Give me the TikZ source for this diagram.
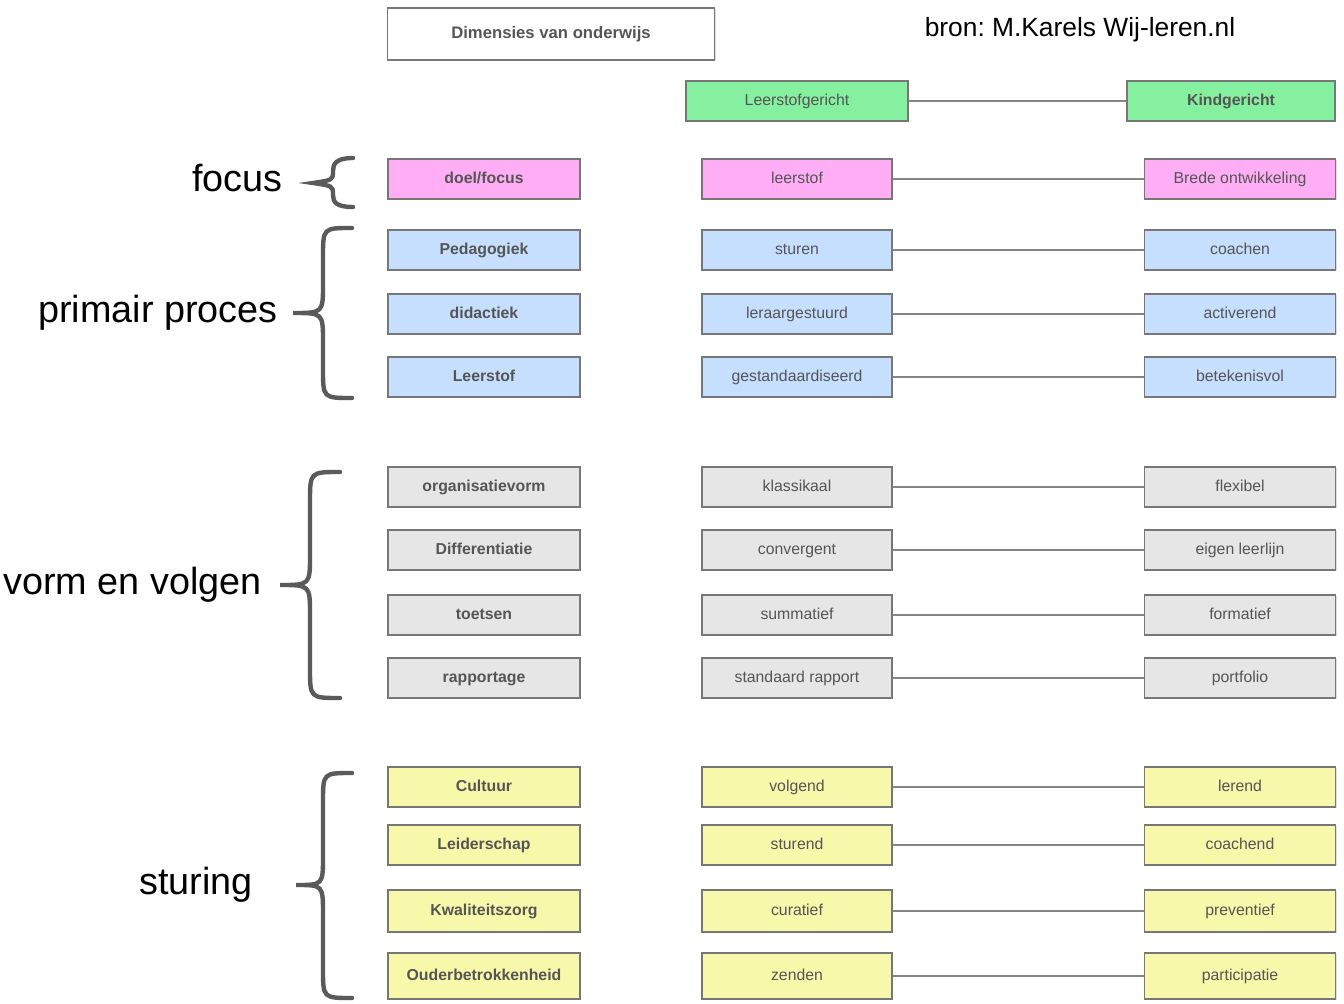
\documentclass[tikz,border=0pt]{standalone}
\usepackage{fontspec}
\setmainfont{Liberation Sans}
\frenchspacing
\usetikzlibrary{shadows}
\usetikzlibrary{arrows.meta}

\definecolor{boxGreen}{HTML}{84F0A0}
\definecolor{boxPink}{HTML}{FFAEF6}
\definecolor{boxBlue}{HTML}{C6DFFF}
\definecolor{boxGrey}{HTML}{E6E6E6}
\definecolor{boxYellow}{HTML}{F8F8AA}
\definecolor{boxLine}{HTML}{777777}
\definecolor{boxText}{HTML}{555555}
\definecolor{braceGrey}{HTML}{5A5A5A}

\begin{document}
\begin{tikzpicture}[x=0.02cm,y=-0.02cm,
        baseNode/.style = {draw=boxLine,line width=0.85pt,text=boxText,inner sep=0pt,minimum height=0.8cm,
                           text height=0.72em,text depth=0.2em,
                           font=\fontsize{9}{11}\selectfont,drop shadow={shadow xshift=0.6pt,shadow yshift=-0.6pt,opacity=0.25}},
        dimNode/.style = {baseNode,minimum width=3.84cm,font=\fontsize{9}{11}\selectfont\bfseries}, % left column
        midNode/.style = {baseNode,minimum width=3.8cm},
        rightNode/.style = {baseNode,minimum width=3.82cm},
        greenNode/.style = {fill=boxGreen},
        pinkNode/.style = {fill=boxPink},
        blueNode/.style = {fill=boxBlue},
        greyNode/.style = {fill=boxGrey},
        yellowNode/.style = {fill=boxYellow},
        groupLabel/.style = {anchor=east,inner sep=0pt,font=\fontsize{21.5}{24}\selectfont},
        link/.style = {draw=boxLine!90,line width=0.85pt},
        curly/.style = {draw=braceGrey,line width=2.5pt,line cap=round}
        ]
        \useasboundingbox (0,0) rectangle (1344,1003);

        % header
        \node[baseNode,fill=white,minimum width=6.54cm,minimum height=1.04cm,font=\fontsize{9.5}{11}\selectfont\bfseries] (dims) at (551,34) {Dimensies van onderwijs};
        \node[inner sep=0pt,font=\fontsize{15}{18}\selectfont] (bron) at (1080,30) {bron: M.Karels Wij-leren.nl};
        \node[baseNode,greenNode,minimum width=4.44cm] (lsg) at (797,101) {Leerstofgericht};
        \node[baseNode,greenNode,minimum width=4.16cm,font=\fontsize{9}{11}\selectfont\bfseries] (kg) at (1231,101) {Kindgericht};

        % focus
        \node[dimNode,pinkNode] (focusL) at (484,179) {doel/focus};
        \node[midNode,pinkNode] (focusM) at (797,179) {leerstof};
        \node[rightNode,pinkNode] (focusR) at (1240,179) {Brede ontwikkeling};

        % primair proces
        \node[dimNode,blueNode] (pedL) at (484,250) {Pedagogiek};
        \node[midNode,blueNode] (pedM) at (797,250) {sturen};
        \node[rightNode,blueNode] (pedR) at (1240,250) {coachen};
        \node[dimNode,blueNode] (didL) at (484,314) {didactiek};
        \node[midNode,blueNode] (didM) at (797,314) {leraargestuurd};
        \node[rightNode,blueNode] (didR) at (1240,314) {activerend};
        \node[dimNode,blueNode] (leerL) at (484,377) {Leerstof};
        \node[midNode,blueNode] (leerM) at (797,377) {gestandaardiseerd};
        \node[rightNode,blueNode] (leerR) at (1240,377) {betekenisvol};

        % vorm en volgen
        \node[dimNode,greyNode] (orgL) at (484,487) {organisatievorm};
        \node[midNode,greyNode] (orgM) at (797,487) {klassikaal};
        \node[rightNode,greyNode] (orgR) at (1240,487) {flexibel};
        \node[dimNode,greyNode] (diffL) at (484,550) {Differentiatie};
        \node[midNode,greyNode] (diffM) at (797,550) {convergent};
        \node[rightNode,greyNode] (diffR) at (1240,550) {eigen leerlijn};
        \node[dimNode,greyNode] (toetsL) at (484,615) {toetsen};
        \node[midNode,greyNode] (toetsM) at (797,615) {summatief};
        \node[rightNode,greyNode] (toetsR) at (1240,615) {formatief};
        \node[dimNode,greyNode] (rappL) at (484,678) {rapportage};
        \node[midNode,greyNode] (rappM) at (797,678) {standaard rapport};
        \node[rightNode,greyNode] (rappR) at (1240,678) {portfolio};

        % sturing
        \node[dimNode,yellowNode] (cultL) at (484,787) {Cultuur};
        \node[midNode,yellowNode] (cultM) at (797,787) {volgend};
        \node[rightNode,yellowNode] (cultR) at (1240,787) {lerend};
        \node[dimNode,yellowNode] (leidL) at (484,845) {Leiderschap};
        \node[midNode,yellowNode] (leidM) at (797,845) {sturend};
        \node[rightNode,yellowNode] (leidR) at (1240,845) {coachend};
        \node[dimNode,yellowNode,minimum height=0.84cm] (kwalL) at (484,911) {Kwaliteitszorg};
        \node[midNode,yellowNode,minimum height=0.84cm] (kwalM) at (797,911) {curatief};
        \node[rightNode,yellowNode,minimum height=0.84cm] (kwalR) at (1240,911) {preventief};
        \node[dimNode,yellowNode,minimum height=0.92cm] (oudL) at (484,976) {Ouderbetrokkenheid};
        \node[midNode,yellowNode,minimum height=0.92cm] (oudM) at (797,976) {zenden};
        \node[rightNode,yellowNode,minimum height=0.92cm] (oudR) at (1240,976) {participatie};

        % connectors
        \draw[link] (lsg) -- (kg);
        \draw[link] (focusM) -- (focusR);
        \draw[link] (pedM) -- (pedR);
        \draw[link] (didM) -- (didR);
        \draw[link] (leerM) -- (leerR);
        \draw[link] (orgM) -- (orgR);
        \draw[link] (diffM) -- (diffR);
        \draw[link] (toetsM) -- (toetsR);
        \draw[link] (rappM) -- (rappR);
        \draw[link] (cultM) -- (cultR);
        \draw[link] (leidM) -- (leidR);
        \draw[link] (kwalM) -- (kwalR);
        \draw[link] (oudM) -- (oudR);

        % group labels and braces
        \node[groupLabel] (focusLbl) at (283,178) {focus};
        \node[groupLabel] (primLbl) at (278,313) {primair proces};
        \node[groupLabel] (vormLbl) at (262,585) {vorm en volgen};
        \node[groupLabel] (sturLbl) at (253,885) {sturing};

        \draw[curly] (353,158) .. controls (336,158) and (333,164) .. (333,171)
            .. controls (333,180) .. (313,183) .. controls (333,186) .. (333,195)
            .. controls (333,202) and (336,207) .. (353,207);
        \draw[curly] (352,228) .. controls (323,228) .. (323,257) -- (323,284)
            .. controls (323,313) .. (293,313) .. controls (323,313) .. (323,342)
            -- (323,369) .. controls (323,398) .. (352,398);
        \draw[curly] (340,472) .. controls (310,472) .. (310,502) -- (310,555)
            .. controls (310,585) .. (280,585) .. controls (310,585) .. (310,615)
            -- (310,668) .. controls (310,698) .. (340,698);
        \draw[curly] (352,773) .. controls (323,773) .. (323,802) -- (323,856)
            .. controls (323,885) .. (296,885) .. controls (323,885) .. (323,914)
            -- (323,969) .. controls (323,998) .. (352,998);
    \end{tikzpicture}
\end{document}
